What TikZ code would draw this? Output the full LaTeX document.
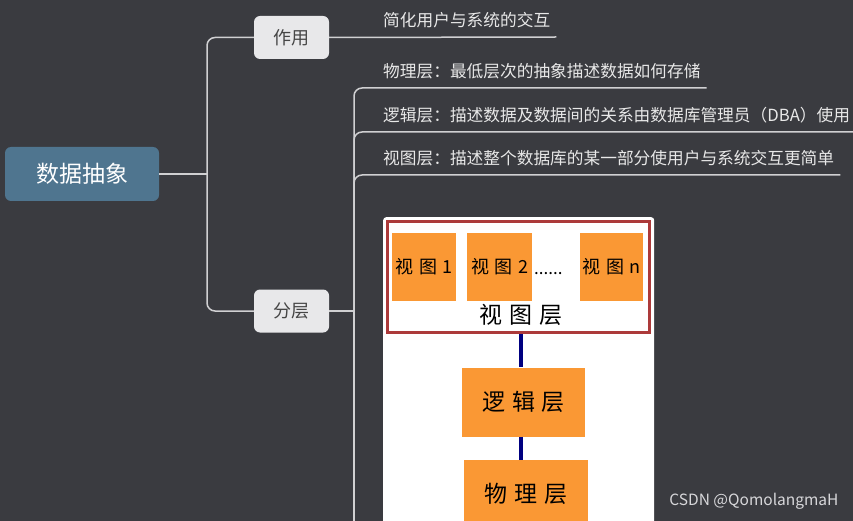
\documentclass[tikz,border=0pt]{standalone}
\usepackage{fontspec}
\setmainfont{Noto Sans CJK SC}
\usepackage{xcolor}
\usepackage{tikz}
\usetikzlibrary{positioning}

\definecolor{bgdark}{RGB}{58,59,64}
\definecolor{rootblue}{RGB}{79,117,143}
\definecolor{topicgray}{RGB}{232,232,234}
\definecolor{topictext}{RGB}{70,70,70}
\definecolor{leaftext}{RGB}{232,232,232}
\definecolor{linegray}{RGB}{208,208,210}
\definecolor{layerorange}{RGB}{250,152,52}
\definecolor{framered}{RGB}{172,58,58}
\definecolor{linknavy}{RGB}{0,0,128}
\definecolor{markgray}{RGB}{215,215,218}

\newcommand{\sizept}[1]{\fontsize{#1}{#1}\selectfont}
\newcommand{\lsp}{\hspace{0.3em}}

\begin{document}
\begin{tikzpicture}[
    x=1pt, y=-1pt,
    root/.style={fill=rootblue, rounded corners=6pt, minimum width=154pt, minimum height=54pt, text=white, font=\sizept{23}},
    topic/.style={fill=topicgray, rounded corners=6pt, minimum width=75pt, minimum height=43pt, text=topictext, font=\sizept{18}},
    leaf/.style={anchor=south west, inner xsep=6pt, inner ysep=9pt, text=leaftext, font=\sizept{16.7}},
    branch/.style={draw=linegray, line width=1.5pt, rounded corners=8pt},
    view/.style={fill=layerorange, inner sep=0pt, minimum height=68pt, font=\sizept{18}},
    layer/.style={fill=layerorange, inner sep=0pt, font=\sizept{23}},
    link/.style={draw=linknavy, line width=4pt}
]

\clip (0,0) rectangle (853,521);
\fill[bgdark] (0,0) rectangle (853,521);

\node[root] (abs) at (82,174) {数据抽象};
\node[topic] (use) at (291.5,37.5) {作用};
\node[topic] (layer) at (291.5,311) {分层};

\coordinate (j1) at (207,174);
\coordinate (j2) at (354,311);

\node[leaf] (simp) at (377,37) {简化用户与系统的交互};
\node[leaf] (phys) at (377,88) {物理层：最低层次的抽象描述数据如何存储};
\node[leaf] (logi) at (377,132) {逻辑层：描述数据及数据间的关系由数据库管理员（DBA）使用};
\node[leaf] (view) at (377,175) {视图层：描述整个数据库的某一部分使用户与系统交互更简单};

% picture of the three layers
\node[fill=white, rounded corners=3pt, minimum width=271pt, minimum height=400pt, inner sep=0pt, anchor=north west] (pic) at (383,217) {};
\node[draw=framered, line width=3pt, minimum width=262pt, minimum height=111pt, inner sep=0pt] (vframe) at (518.5,277) {};

\node[view, minimum width=64pt] (v1) at (424,267) {视\lsp 图\lsp 1};
\node[view, minimum width=65pt, right=11pt of v1] (v2) {视\lsp 图\lsp 2};
\node[view, minimum width=63pt] (vn) at (611.5,267) {视\lsp 图\lsp n};
\node[anchor=base west, inner sep=0pt, font=\sizept{17}] (dots) at (534,274) {......};
\node[font=\sizept{23}] (vlabel) at (521,315) {视\lsp 图\lsp 层};

\node[layer, minimum width=123pt, minimum height=69pt] (logic) at (523.5,402) {逻\lsp 辑\lsp 层};
\node[layer, minimum width=124pt, minimum height=68pt, below=23pt of logic, xshift=2.5pt] (base) {物\lsp 理\lsp 层};

\draw[link] (vframe.south -| vlabel) -- (vlabel |- logic.north);
\draw[link] (logic.south -| vlabel) -- (vlabel |- base.north);

% branches
\draw[branch] (abs.east) -- (j1);
\draw[branch] (j1) |- (use.west);
\draw[branch] (j1) |- (layer.west);
\draw[branch] (use.east) -- (simp.south east);
\draw[branch] (layer.east) -- (j2);
\draw[branch] (j2) |- (phys.south east);
\draw[branch] (j2) |- (logi.south east);
\draw[branch] (j2) |- (view.south east);
\draw[branch] (j2) -- (j2 |- pic.south);

\node[anchor=east, text=markgray, font=\sizept{15.5}] (mark) at (842,501) {CSDN @QomolangmaH};

\end{tikzpicture}
\end{document}
